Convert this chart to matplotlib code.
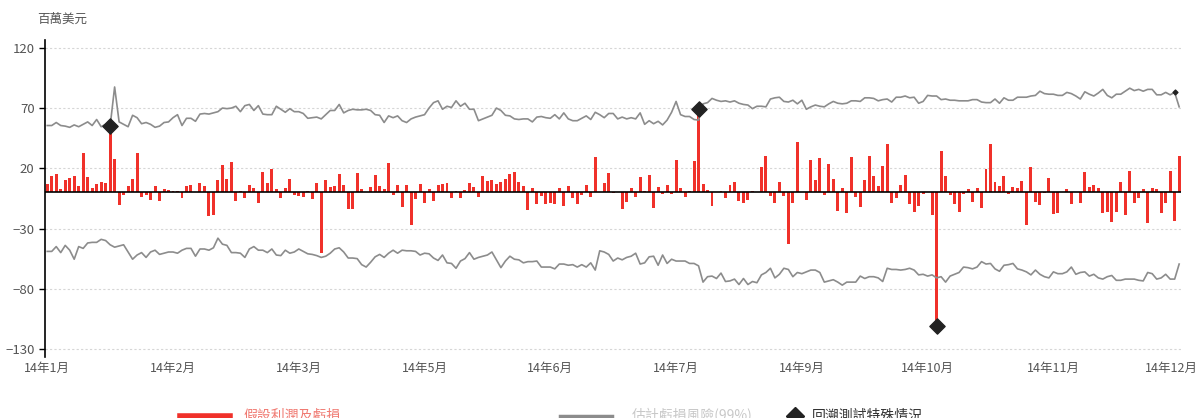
import numpy as np
import matplotlib
matplotlib.use('Agg')
import matplotlib.pyplot as plt
import matplotlib.transforms as mtrans
from matplotlib.lines import Line2D

plt.rcParams['font.family'] = ['Noto Sans CJK TC', 'DejaVu Sans']

# daily hypothetical P&L (US$ mn), one value per trading day
pnl = [7, 14, 15, 3, 10, 12, 14, 5, 33, 12.5,
       4, 7, 9, 8, 55.5, 28, -10.5, -2, 5, 11,
       33, -3.5, -2, -6.5, 5, -7, 2.5, 2, 1, 1,
       -4.5, 5, 6, 0.5, 7.5, 5, -20, -18.5, 10, 23,
       11.5, 25, -7.5, 1.5, -5, 6, 3.5, -8.5, 17, 8,
       19.5,
       3, -4.5, 3.5, 11.5, -2, -3, -4, 1, -5.5, 8,
       -50, 10, 4.5, 5, 15, 6.5, -14, -13.5, 16, 2.5,
       0, 4.5, 14.5, 5, 3, 24, -2, 6.5, -12, 6,
       -27, -5.5, 7, -9, 3, -7.5, 6, 7, 8, -4.5,
       1.5, -4.5, 2, 8, 4.5, -4, 14, 9.5, 10, 7,
       9,
       11, 15, 17, 9, 5, -14.5, 4, -10, -3, -9.5,
       -9, -10, 3.5, -11, 5, -5, -10, -2, 6, -4,
       29, 0, 8, 16.5, -0.5, 0, -14, -8, 3.5, -4,
       13, 1, 14.5, -13, 4.5, -1.5, 6, -1, 27, 4,
       -4, 1, 26, 69, 7, 2, -11, 0.5, 1.5, -4.5,
       6.5, 9, -7.5, -9, -6, 1, 0, 21, 30.5, -3,
       -9, 9, -3, -43, -9, 41.5, 0, -6, 26.5, 10,
       28.5, -2, 23.5, 11, -15.5, 4, -17, 29, -3.5, -12,
       10, 30, 13.5, 5.5, 21.5, 40.5, -8.5, -4.5, 6, 14.5,
       -9.5, -16.5, -11, -1, 0, -18.5, -111, 34, 14, -2,
       -10,
       -16, -1, 2.5, -8, 4, -13, 19.5, 40, 8.5, 5,
       14, -1, 4.5, 3.5, 9.5, -27, 21, -8, -10.5, -0.5,
       12, -18, -17, 0, 2.5, -10, 0, -9, 17, 4.5,
       6, 3.5, -17.5, -16.5, -25, -16, 8.5, -18.5, 17.5, -9,
       -5, 3, -25.5, 3.5, 3, -17, -9, 17.5, -24, 30.5]

var_up = [55.5, 55.5, 58, 55.5, 55, 54, 56, 54.5, 56.5, 58.5,
          55.5, 60.5, 54.5, 56.5, 55, 87.5, 58.5, 56.5, 54.5, 64,
          62, 57, 58, 56.5, 54, 55, 58, 58.5, 62, 64.5,
          55.5, 61.5, 61.5, 59, 65, 65.5, 65, 66, 67, 70,
          69.5, 70, 71.5, 67, 72, 73, 68, 72, 65, 64.5,
          64.5,
          71.5, 69, 66.5, 69.5, 67, 67, 65.5, 61.5, 62, 62.5,
          61, 64.5, 68, 68, 73, 66, 68, 69, 68.5, 68.5,
          69, 68, 64.5, 64, 58, 63.5, 62, 63.5, 59.5, 58,
          61, 62.5, 63.5, 64.5, 70, 74.5, 76, 69, 71.5, 70.5,
          76, 71.5, 74, 69, 69, 59.5, 61, 62.5, 64, 70,
          68,
          64, 63.5, 61, 60.5, 61, 61, 58.5, 62.5, 63, 62,
          61.5, 64.5, 61, 66, 61, 59.5, 59.5, 61.5, 63.5, 60.5,
          66.5, 64.5, 62, 65.5, 65.5, 61, 62.5, 61, 62, 61,
          66, 56.5, 59.5, 57, 59, 56, 60, 66.5, 75.5, 64.5,
          63, 63, 60.5, 60, 73.5, 74.5, 78, 76.5, 75.5, 76,
          75, 76, 74, 73, 72.5, 69.5, 71.5, 71.5, 71, 77.5,
          78.5, 79, 75.5, 75, 76.5, 73.5, 76.5, 69, 71, 72.5,
          71.5, 71, 73.5, 75.5, 74, 73.5, 74, 76, 76, 75.5,
          78.5, 78.5, 78, 76, 77, 77.5, 75, 79, 79, 80,
          78.5, 79, 74, 75.5, 80.5, 80, 80, 77, 77.5, 76.5,
          76.5,
          76, 76, 76, 77, 77, 75, 74.5, 74.5, 77.5, 74,
          78.5, 76.5, 76.5, 79, 79, 79, 80, 80.5, 84, 82,
          81.5, 81.5, 80.5, 80.5, 83, 82, 80, 77.5, 83.5, 81.5,
          80, 82.5, 85.5, 80.5, 78.5, 81.5, 81.5, 84, 86.5, 84.5,
          85.5, 84, 85.5, 85.5, 81, 81, 83, 81, 83, 71]

var_dn = [-49, -49, -45, -50, -44, -48, -55.5, -45, -46.5, -42,
          -41.5, -41.5, -39, -40, -43.5, -45.5, -44.5, -43.5, -49.5, -55.5,
          -52, -50, -54, -49.5, -48, -51.5, -50.5, -49.5, -49.5, -50.5,
          -48, -46.5, -46.5, -53, -47, -47, -48, -46, -38, -43,
          -44, -50, -50, -50.5, -54, -47, -45, -48, -48, -50,
          -47,
          -52, -52.5, -48, -50.5, -49.5, -47, -49, -51, -51.5, -52.5,
          -54, -53, -50.5, -47, -46, -49.5, -54.5, -54.5, -55, -60,
          -62, -58, -53.5, -51.5, -54, -50.5, -48, -50.5, -48, -48.5,
          -48.5, -49, -52, -50.5, -51, -54.5, -56.5, -52, -58.5, -59,
          -63, -57, -55, -50, -55.5, -54, -53, -52, -49.5, -56,
          -62.5,
          -57, -53, -55.5, -56, -58.5, -57.5, -57.5, -57, -62, -62,
          -62, -63.5, -59.5, -59.5, -60.5, -60, -62, -60, -62, -58.5,
          -64.5, -48.5, -49.5, -51.5, -57, -54.5, -56, -54, -53, -50.5,
          -59.5, -58.5, -53.5, -53, -60.5, -52, -59, -55.5, -57, -57,
          -57, -59, -59, -61, -74.5, -70, -69.5, -71.5, -67, -74,
          -73.5, -72, -76.5, -71.5, -76.5, -74, -75, -68.5, -66.5, -63,
          -71, -68, -63, -64, -70, -66.5, -67.5, -66, -64.5, -64.5,
          -66.5, -74.5, -73.5, -72.5, -74.5, -77, -74.5, -74.5, -74.5, -69.5,
          -71.5, -70, -70, -71, -74, -63, -64, -64, -64.5, -64,
          -63, -64.5, -68.5, -68, -69.5, -68.5, -71, -70, -74.5, -69.5,
          -68,
          -66.5, -62, -62.5, -63.5, -62, -57.5, -59.5, -59, -63.5, -65.5,
          -60.5, -60, -59, -63.5, -64.5, -66, -68.5, -64.5, -68, -70,
          -71, -66, -67.5, -67.5, -66, -62, -68, -66.5, -66, -69.5,
          -68, -71, -72, -70, -69, -73, -73, -72, -72, -72,
          -73, -73.5, -66.5, -67.5, -72, -71, -68, -72, -72, -59.5]

# backtesting exceptions (day index)
exceptions = [14, 145, 198]
# small highlighted point on the VaR line near year end
var_mark = [251]

month_labels = ['14年1月', '14年2月', '14年3月', '14年5月', '14年6月',
                '14年7月', '14年9月', '14年10月', '14年11月', '14年12月']
label_step = 28

n = len(pnl)
x = np.arange(n)

fig = plt.figure(figsize=(12, 4.18), dpi=100)
# plot box: x 45..1181 px, y 40..357 px
ax = fig.add_axes([0.0375, 1 - 357.4 / 418, 0.947, 317.4 / 418])

ax.bar(x, pnl, width=0.66, color='#f0312a', zorder=2)
ax.plot(x, var_up, color='#8c8c8c', lw=1.2, zorder=3)
ax.plot(x, var_dn, color='#8c8c8c', lw=1.2, zorder=3)
ax.axhline(0, color='black', lw=1.2, zorder=4)
ax.scatter(exceptions, [pnl[i] for i in exceptions], marker='D', s=60,
           color='#222222', zorder=5)
ax.scatter(var_mark, [var_up[i] for i in var_mark], marker='D', s=6,
           color='#222222', zorder=5)

ax.set_xlim(-0.5, n - 0.5)
ax.set_ylim(-137, 126.5)
ax.set_yticks([120, 70, 20, -30, -80, -130])
ax.yaxis.grid(True, color='#d6d6d6', ls=(0, (2, 2)), lw=0.8)
ax.set_axisbelow(True)
ax.set_xticks(range(0, n, label_step))
ax.set_xticklabels(month_labels)
ax.tick_params(axis='x', length=0, colors='#555555', labelsize=9, pad=3)
ax.tick_params(axis='y', length=4, colors='black', labelcolor='#555555',
               labelsize=9.5, width=1)
for s in ['top', 'right', 'bottom']:
    ax.spines[s].set_visible(False)
ax.spines['left'].set_color('black')
ax.spines['left'].set_linewidth(1.2)

# last month label sits slightly left so it stays inside the canvas
last = ax.get_xticklabels()[-1]
last.set_transform(last.get_transform() +
                   mtrans.ScaledTranslation(-8 / 100, 0, fig.dpi_scale_trans))

fig.text(37 / 1200, 1 - 19 / 418, '百萬美元', fontsize=9, color='#555555',
         va='center', ha='left')

# legend, cut at the bottom edge
y_leg = 1 - 416 / 418
fig.add_artist(Line2D([180 / 1200, 230 / 1200], [y_leg, y_leg], lw=4,
                      color='#f0312a', transform=fig.transFigure))
fig.text(243 / 1200, y_leg, '假設利潤及虧損', fontsize=10, color='#f07a72',
         va='center', ha='left')
fig.add_artist(Line2D([560 / 1200, 612 / 1200], [y_leg, y_leg], lw=2.5,
                      color='#8c8c8c', transform=fig.transFigure))
fig.text(632 / 1200, y_leg, '估計虧損風險(99%)', fontsize=10, color='#c8c8c8',
         va='center', ha='left')
fig.add_artist(Line2D([795 / 1200], [y_leg], marker='D', ms=9, color='#222222',
                      lw=0, transform=fig.transFigure))
fig.text(812 / 1200, y_leg, '回溯測試特殊情況', fontsize=10, color='#333333',
         va='center', ha='left')

fig.savefig('out.png', dpi=100)
